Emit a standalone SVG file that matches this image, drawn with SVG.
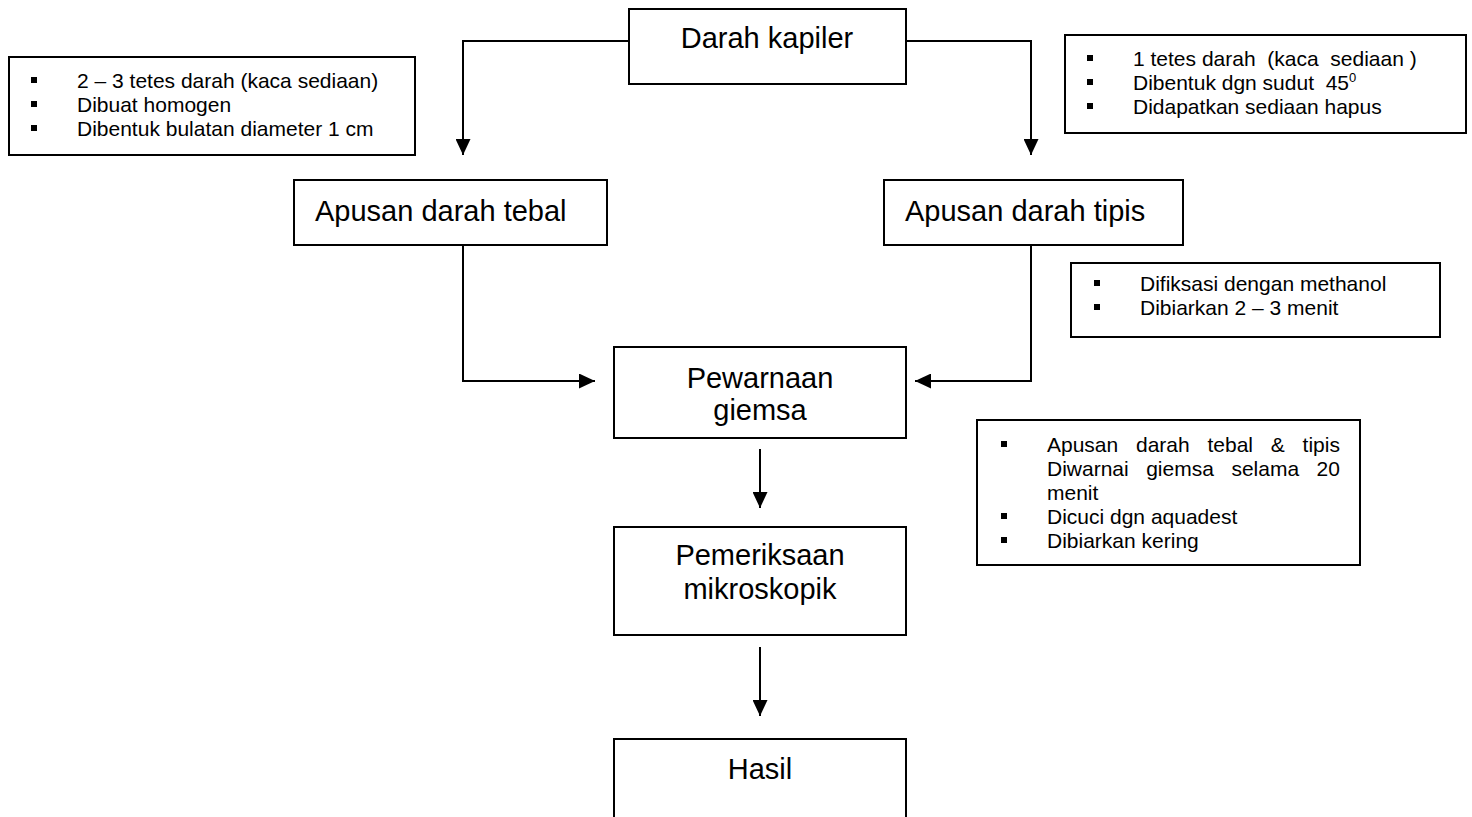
<svg xmlns="http://www.w3.org/2000/svg" width="1472" height="817" viewBox="0 0 1472 817">
<defs>
<style>
.box{fill:#fff;stroke:#000;stroke-width:2}
.h{font-family:"Liberation Sans",Arial,sans-serif;font-size:29px;fill:#000}
.n{font-family:"Liberation Sans",Arial,sans-serif;font-size:21px;fill:#000}
.c{text-anchor:middle}
.b{fill:#000}
.conn{fill:none;stroke:#000;stroke-width:2}
</style>
<marker id="arr" markerUnits="userSpaceOnUse" markerWidth="16" markerHeight="15" refX="16" refY="7.5" orient="auto" viewBox="0 0 16 15">
<path d="M0,0 L16,7.5 L0,15 z" fill="#000"/>
</marker>
</defs>
<rect width="1472" height="817" fill="#fff"/>

<g id="connectors">
<path class="conn" d="M629,41 H463 V155" marker-end="url(#arr)"/>
<path class="conn" d="M906,41 H1031 V155" marker-end="url(#arr)"/>
<path class="conn" d="M463,245 V381 H595" marker-end="url(#arr)"/>
<path class="conn" d="M1031,245 V381 H915" marker-end="url(#arr)"/>
<path class="conn" d="M760,449 V508" marker-end="url(#arr)"/>
<path class="conn" d="M760,647 V716" marker-end="url(#arr)"/>
</g>

<g id="darah-kapiler">
<rect class="box" x="629" y="9" width="277" height="75"/>
<text class="h c" x="767" y="48">Darah kapiler</text>
</g>

<g id="note-tebal">
<rect class="box" x="9" y="57" width="406" height="98"/>
<rect class="b" x="31" y="77" width="6" height="6"/>
<rect class="b" x="31" y="101" width="6" height="6"/>
<rect class="b" x="31" y="125" width="6" height="6"/>
<text class="n" x="77" y="88">2 – 3 tetes darah (kaca sediaan)</text>
<text class="n" x="77" y="112">Dibuat homogen</text>
<text class="n" x="77" y="136">Dibentuk bulatan diameter 1 cm</text>
</g>

<g id="note-tipis">
<rect class="box" x="1065" y="35" width="401" height="98"/>
<rect class="b" x="1087" y="55" width="6" height="6"/>
<rect class="b" x="1087" y="79" width="6" height="6"/>
<rect class="b" x="1087" y="103" width="6" height="6"/>
<text class="n" x="1133" y="66" xml:space="preserve">1 tetes darah  (kaca  sediaan )</text>
<text class="n" x="1133" y="90" xml:space="preserve">Dibentuk dgn sudut  45<tspan font-size="13" dy="-8">0</tspan></text>
<text class="n" x="1133" y="114">Didapatkan sediaan hapus</text>
</g>

<g id="apusan-tebal">
<rect class="box" x="294" y="180" width="313" height="65"/>
<text class="h" x="315" y="221">Apusan darah tebal</text>
</g>

<g id="apusan-tipis">
<rect class="box" x="884" y="180" width="299" height="65"/>
<text class="h" x="905" y="221">Apusan darah tipis</text>
</g>

<g id="note-fiksasi">
<rect class="box" x="1071" y="263" width="369" height="74"/>
<rect class="b" x="1094" y="280" width="6" height="6"/>
<rect class="b" x="1094" y="304" width="6" height="6"/>
<text class="n" x="1140" y="291">Difiksasi dengan methanol</text>
<text class="n" x="1140" y="315">Dibiarkan 2 – 3 menit</text>
</g>

<g id="pewarnaan">
<rect class="box" x="614" y="347" width="292" height="91"/>
<text class="h c" x="760" y="388">Pewarnaan</text>
<text class="h c" x="760" y="420">giemsa</text>
</g>

<g id="note-giemsa">
<rect class="box" x="977" y="420" width="383" height="145"/>
<rect class="b" x="1001" y="441" width="6" height="6"/>
<rect class="b" x="1001" y="513" width="6" height="6"/>
<rect class="b" x="1001" y="537" width="6" height="6"/>
<text class="n" y="452"><tspan x="1047">Apusan</tspan><tspan x="1136">darah</tspan><tspan x="1207.5">tebal</tspan><tspan x="1270.8">&amp;</tspan><tspan x="1302.6">tipis</tspan></text>
<text class="n" y="476"><tspan x="1047">Diwarnai</tspan><tspan x="1146.2">giemsa</tspan><tspan x="1231.4">selama</tspan><tspan x="1316.6">20</tspan></text>
<text class="n" x="1047" y="500">menit</text>
<text class="n" x="1047" y="524">Dicuci dgn aquadest</text>
<text class="n" x="1047" y="548">Dibiarkan kering</text>
</g>

<g id="pemeriksaan">
<rect class="box" x="614" y="527" width="292" height="108"/>
<text class="h c" x="760" y="565">Pemeriksaan</text>
<text class="h c" x="760" y="599">mikroskopik</text>
</g>

<g id="hasil">
<rect class="box" x="614" y="739" width="292" height="100"/>
<text class="h c" x="760" y="779">Hasil</text>
</g>
</svg>
